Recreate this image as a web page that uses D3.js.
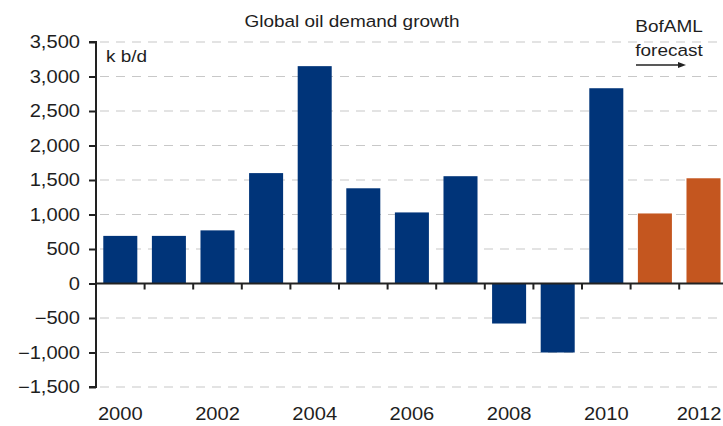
<!DOCTYPE html>
<html><head><meta charset="utf-8">
<script src="https://cdn.jsdelivr.net/npm/d3@7"></script>
<style>body{margin:0;background:#fff}svg{display:block;font-family:"Liberation Sans",Arial,sans-serif}</style>
</head><body><svg id="c" width="723" height="426"></svg>
<script>
const years = [2000,2001,2002,2003,2004,2005,2006,2007,2008,2009,2010,2011,2012];
const demand = [690,690,770,1600,3150,1380,1030,1555,-580,-1000,2830,1015,1525];
const forecast = [false,false,false,false,false,false,false,false,false,false,false,true,true];
const yTicks = [-1500,-1000,-500,0,500,1000,1500,2000,2500,3000,3500];
const xLabels = [2000,2002,2004,2006,2008,2010,2012];

const svg = d3.select("#c");
const x0 = 96, stepW = 48.6, SX = 1.15, FS = 17.5, TXT = "#1e1e1e";
const x = d3.scaleBand().domain(years).range([x0, x0 + stepW*years.length]).paddingInner(0.3).paddingOuter(0.15);
const y = d3.scaleLinear().domain([-1500,3500]).range([387,42]);

function stext(g, px, py, str, anchor, fs) {
  return g.append("text").attr("transform", `translate(${px},${py}) scale(${SX},1)`)
    .attr("text-anchor", anchor).attr("font-size", fs).attr("fill", TXT).text(str);
}

// gridlines
svg.append("g").selectAll("line").data(yTicks.filter(d=>d!==0)).join("line")
  .attr("x1", x0+4).attr("x2", 723).attr("y1", d=>y(d)).attr("y2", d=>y(d))
  .attr("stroke","#c8c8c8").attr("stroke-width",1.2).attr("stroke-dasharray","9,7");

// bars
svg.append("g").selectAll("rect").data(years).join("rect")
  .attr("x", d=>x(d)).attr("width", x.bandwidth())
  .attr("y", (d,i)=>y(Math.max(0,demand[i])))
  .attr("height", (d,i)=>Math.abs(y(demand[i])-y(0)))
  .attr("fill", (d,i)=>forecast[i] ? "#c4561f" : "#003479");

// y axis
const yAxis = d3.axisLeft(y).tickValues(yTicks).tickSize(7).tickFormat(() => "");
const ya = svg.append("g").attr("transform",`translate(${x0},0)`).call(yAxis);
ya.select(".domain").attr("stroke","#222").attr("stroke-width",2).attr("d",`M-7,${y(3500)}H0V${y(-1500)}H-7`);
ya.selectAll(".tick line").attr("stroke","#222").attr("stroke-width",2);
const fmt = d3.format(",");
const yl = svg.append("g");
yTicks.forEach(t => stext(yl, 80, y(t) + 6, fmt(t), "end", FS));

// x axis at zero
const xa = svg.append("g");
xa.append("line").attr("x1",x0).attr("x2",723).attr("y1",y(0)).attr("y2",y(0)).attr("stroke","#222").attr("stroke-width",2);
const bounds = years.map(d=>x(d)+x.bandwidth()+ (x.step()-x.bandwidth())/2);
xa.selectAll("line.t").data(bounds).join("line").attr("class","t")
  .attr("x1",d=>d).attr("x2",d=>d).attr("y1",y(0)).attr("y2",y(0)+6).attr("stroke","#222").attr("stroke-width",2);
xLabels.forEach(d => {
  const cx = Math.min(x(d)+x.bandwidth()/2, 699);
  stext(xa, cx, 420, d, "middle", FS);
});

// texts
stext(svg, 352, 27, "Global oil demand growth", "middle", 16.5);
stext(svg, 106, 62, "k b/d", "start", 16.5);
stext(svg, 669, 32, "BofAML", "middle", 16.5);
stext(svg, 669, 56, "forecast", "middle", 16.5);
svg.append("line").attr("x1",636).attr("x2",680).attr("y1",65).attr("y2",65).attr("stroke","#222").attr("stroke-width",1.5);
svg.append("path").attr("d","M686,65 L678,62 L678,68 Z").attr("fill","#222");
</script></body></html>
